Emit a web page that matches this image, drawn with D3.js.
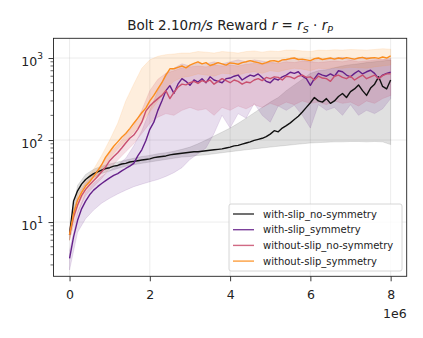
<!DOCTYPE html>
<html>
<head>
<meta charset="utf-8">
<script src="https://cdn.jsdelivr.net/npm/d3@7"></script>
<style>
  body { margin: 0; background: #fff; }
  svg { font-family: "DejaVu Sans", sans-serif; }
</style>
</head>
<body>
<svg id="chart" width="423" height="338"></svg>
<script>
// Data (timesteps in millions)
const lineSteps = d3.range(0, 81).map(i => i / 10);
const bandSteps = d3.range(0, 41).map(i => i / 5);

const seriesNames = ["with-slip_no-symmetry", "with-slip_symmetry", "without-slip_no-symmetry", "without-slip_symmetry"];
const seriesColors = ["#111111", "#65208a", "#c9506f", "#fb8d1e"];

const slipNoSym = [7, 18, 24, 29, 33, 36, 39, 41, 43, 45, 46, 48, 49, 51, 52, 54, 55, 56, 57, 58,
  59, 61, 62, 63, 64, 66, 67, 68, 69, 70, 71, 72, 72, 73, 74, 75, 76, 77, 78, 80,
  82, 85, 86, 89, 92, 95, 99, 102, 105, 110, 118, 130, 126, 140, 150, 162, 178, 195, 220, 250,
  285, 330, 300, 290, 320, 280, 300, 340, 370, 330, 390, 420, 470, 400, 350, 430, 480, 590, 450, 420, 540];
const slipSym = [3.6, 6.6, 10.5, 14.5, 18, 21.5, 24.5, 27, 29.5, 32, 34.5, 37, 39, 42, 45, 48, 52, 64, 76, 98,
  135, 165, 230, 300, 400, 460, 370, 480, 560, 520, 465, 540, 510, 560, 500, 590, 540, 520, 500, 560,
  570, 600, 620, 540, 580, 620, 600, 640, 580, 520, 500, 560, 540, 590, 620, 670, 650, 680, 600, 560,
  465, 560, 650, 620, 600, 640, 600, 700, 680, 620, 590, 650, 700, 640, 680, 710, 650, 560, 620, 650, 670];
const noSlipNoSym = [7, 11.5, 16, 21, 25, 28.5, 32, 36, 41, 47, 56, 63, 70, 80, 92, 105, 115, 135, 165, 225,
  260, 290, 320, 350, 400, 320, 380, 440, 480, 470, 500, 520, 490, 530, 510, 540, 480, 520, 560, 530,
  500, 540, 520, 480, 510, 500, 540, 560, 530, 580, 560, 590, 580, 540, 600, 590, 560, 600, 620, 580,
  590, 540, 600, 570, 560, 520, 600, 620, 580, 560, 600, 540, 580, 620, 560, 590, 620, 560, 610, 640, 640];
const noSlipSym = [7, 12.7, 18.5, 23, 27.5, 31, 36, 42, 50, 62, 72, 84, 95, 108, 120, 138, 160, 185, 215, 245,
  300, 350, 420, 500, 620, 740, 740, 770, 800, 760, 820, 860, 900, 850, 880, 810, 840, 880, 850, 820,
  870, 860, 840, 880, 900, 930, 900, 880, 850, 880, 920, 930, 900, 950, 960, 985, 1000, 960, 970, 950,
  930, 980, 1000, 960, 980, 1000, 970, 1000, 980, 1010, 990, 970, 1000, 1020, 980, 1000, 1010, 990, 1030, 1000, 1060];

// Shaded bands (lower / upper) at 0.2e6 steps
const slipNoSymLow = [6, 21, 29, 35, 39, 42, 45, 48, 50, 52, 54, 56, 58, 60, 62, 63, 65, 66, 68, 70,
  72, 74, 76, 78, 80, 82, 84, 86, 88, 90, 92, 93, 94, 95, 95, 96, 96, 95, 96, 95, 88];
const slipNoSymHigh = [8, 28, 38, 44, 48, 51, 54, 57, 60, 63, 65, 68, 70, 73, 77, 82, 90, 100, 112, 125,
  140, 160, 185, 215, 250, 290, 330, 400, 470, 550, 650, 700, 720, 760, 800, 830, 850, 880, 900, 920, 950];
const slipSymLow = [2.6, 7.5, 11, 14, 17, 19.5, 22, 24.5, 27, 29, 31, 33, 36, 40, 46, 58, 68, 80, 120, 200,
  140, 210, 185, 280, 200, 165, 260, 230, 265, 200, 140, 270, 230, 250, 200, 270, 200, 230, 210, 240, 320];
const slipSymHigh = [4.5, 13, 23, 30, 36, 42, 50, 60, 85, 130, 230, 400, 650, 750, 850, 800, 870, 850, 900, 850,
  900, 950, 900, 950, 920, 880, 920, 950, 1000, 950, 900, 980, 950, 1000, 1020, 950, 1000, 1020, 980, 950, 1000];
const noSlipNoSymLow = [6, 13, 21, 27, 34, 45, 57, 72, 90, 120, 160, 190, 210, 200, 230, 250, 230, 240, 200, 250,
  230, 260, 240, 270, 250, 280, 260, 290, 270, 300, 280, 290, 270, 300, 280, 290, 260, 300, 280, 320, 350];
const noSlipNoSymHigh = [8.5, 20, 30, 38, 50, 70, 88, 115, 150, 230, 400, 550, 650, 700, 760, 780, 800, 780, 820, 800,
  820, 800, 840, 860, 840, 880, 860, 900, 880, 920, 900, 880, 900, 920, 900, 940, 900, 920, 940, 960, 950];
const noSlipSymLow = [6, 16, 24, 31, 42, 60, 78, 98, 125, 165, 220, 300, 420, 520, 580, 600, 640, 620, 600, 650,
  640, 620, 660, 680, 650, 700, 680, 720, 750, 730, 700, 750, 740, 760, 750, 770, 760, 750, 780, 800, 820];
const noSlipSymHigh = [8.5, 22, 32, 44, 65, 100, 160, 300, 480, 750, 950, 1050, 1100, 1120, 1150, 1150, 1200, 1180, 1150, 1200,
  1180, 1150, 1200, 1220, 1180, 1220, 1200, 1250, 1250, 1220, 1200, 1250, 1240, 1260, 1250, 1270, 1260, 1250, 1270, 1300, 1280];

const xTicks = [0, 2, 4, 6, 8];
const yTicks = [10, 100, 1000];

// Layout
const margin = { top: 38.3, left: 53.5 };
const width = 353.2;
const height = 238;

const svg = d3.select("#chart");
const g = svg.append("g").attr("transform", `translate(${margin.left},${margin.top})`);

const x = d3.scaleLinear().domain([-0.4, 8.4]).range([0, width]);
const y = d3.scaleLog().domain([2.18, 1740]).range([height, 0]);

// Gridlines
g.append("g").selectAll("line").data(xTicks).join("line")
  .attr("x1", d => x(d)).attr("x2", d => x(d))
  .attr("y1", 0).attr("y2", height)
  .attr("stroke", "#b0b0b0").attr("stroke-opacity", 0.3).attr("stroke-width", 0.8);
g.append("g").selectAll("line").data(yTicks).join("line")
  .attr("x1", 0).attr("x2", width)
  .attr("y1", d => y(d)).attr("y2", d => y(d))
  .attr("stroke", "#b0b0b0").attr("stroke-opacity", 0.3).attr("stroke-width", 0.8);

g.append("clipPath").attr("id", "clip")
  .append("rect").attr("width", width).attr("height", height);

const plot = g.append("g").attr("clip-path", "url(#clip)");

// Bands
const bands = [
  [slipNoSymLow, slipNoSymHigh],
  [slipSymLow, slipSymHigh],
  [noSlipNoSymLow, noSlipNoSymHigh],
  [noSlipSymLow, noSlipSymHigh]
];
const bandOpacity = [0.13, 0.15, 0.18, 0.15];

const area = d3.area()
  .x(d => x(d.t))
  .y0(d => y(d.lo))
  .y1(d => y(d.hi));

bands.forEach(([lo, hi], i) => {
  const data = bandSteps.map((t, k) => ({ t, lo: lo[k], hi: hi[k] }));
  plot.append("path")
    .datum(data)
    .attr("d", area)
    .attr("fill", seriesColors[i])
    .attr("fill-opacity", bandOpacity[i])
    .attr("stroke", seriesColors[i])
    .attr("stroke-opacity", bandOpacity[i])
    .attr("stroke-width", 0.8);
});

// Lines
const lines = [slipNoSym, slipSym, noSlipNoSym, noSlipSym];
const line = d3.line()
  .x(d => x(d.t))
  .y(d => y(d.v));

lines.forEach((vals, i) => {
  plot.append("path")
    .datum(lineSteps.map((t, k) => ({ t, v: vals[k] })))
    .attr("d", line)
    .attr("fill", "none")
    .attr("stroke", seriesColors[i])
    .attr("stroke-width", 1.4)
    .attr("stroke-linejoin", "round");
});

// Axes
const xAxis = g.append("g")
  .attr("transform", `translate(0,${height})`)
  .call(d3.axisBottom(x).tickValues(xTicks).tickSize(5).tickPadding(8.5).tickFormat(d3.format("d")));
xAxis.select(".domain").remove();
xAxis.selectAll("text").attr("font-size", 12.5).attr("fill", "#222").attr("font-family", "DejaVu Sans");
xAxis.selectAll("line").attr("stroke", "#222").attr("stroke-width", 0.9);

const minorY = [];
[1, 10, 100, 1000].forEach(base => {
  for (let m = 2; m <= 9; m++) {
    const v = base * m;
    if (v > 2.18 && v < 1740) minorY.push(v);
  }
});
g.append("g").selectAll("line").data(minorY).join("line")
  .attr("x1", -3).attr("x2", 0)
  .attr("y1", d => y(d)).attr("y2", d => y(d))
  .attr("stroke", "#222").attr("stroke-width", 0.7);

const yAxis = g.append("g")
  .call(d3.axisLeft(y).tickValues(yTicks).tickSize(5).tickPadding(3.5).tickFormat(""));
yAxis.select(".domain").remove();
yAxis.selectAll("line").attr("stroke", "#222").attr("stroke-width", 0.9);

const yLabels = g.append("g").selectAll("text").data(yTicks).join("text")
  .attr("x", -10.5)
  .attr("y", d => y(d) + 7.5)
  .attr("text-anchor", "end")
  .attr("font-size", 12.5)
  .attr("fill", "#222");
yLabels.append("tspan").text("10");
yLabels.append("tspan")
  .attr("dy", -6.5)
  .attr("font-size", 9)
  .text(d => Math.round(Math.log10(d)));

// Frame
g.append("rect")
  .attr("width", width).attr("height", height)
  .attr("fill", "none").attr("stroke", "#222").attr("stroke-width", 0.9);

// Offset label
g.append("text")
  .attr("x", width).attr("y", height + 42)
  .attr("text-anchor", "end")
  .attr("font-size", 12.5)
  .attr("fill", "#222")
  .text("1e6");

// Title
const title = svg.append("text")
  .attr("x", margin.left + width / 2)
  .attr("y", 29.5)
  .attr("text-anchor", "middle")
  .attr("font-size", 13.5)
  .attr("fill", "#222");
title.append("tspan").text("Bolt 2.10");
title.append("tspan").attr("font-style", "italic").text("m/s");
title.append("tspan").text(" Reward ");
title.append("tspan").attr("font-style", "italic").text("r");
title.append("tspan").text(" = ");
title.append("tspan").attr("font-style", "italic").text("r");
title.append("tspan").attr("font-style", "italic").attr("font-size", 9.5).attr("dy", 3).text("S");
title.append("tspan").attr("dy", -3).text(" · ");
title.append("tspan").attr("font-style", "italic").text("r");
title.append("tspan").attr("font-style", "italic").attr("font-size", 9.5).attr("dy", 3).text("P");

// Legend
const legend = g.append("g").attr("transform", `translate(${229 - margin.left},${204 - margin.top})`);
legend.append("rect")
  .attr("width", 173).attr("height", 67).attr("rx", 2)
  .attr("fill", "#fff").attr("fill-opacity", 0.8)
  .attr("stroke", "#ccc").attr("stroke-width", 0.8);

const rows = legend.selectAll("g.row").data(seriesNames).join("g")
  .attr("class", "row")
  .attr("transform", (d, i) => `translate(0,${10 + i * 15.7})`);
rows.append("line")
  .attr("x1", 4).attr("x2", 25)
  .attr("stroke", (d, i) => seriesColors[i])
  .attr("stroke-opacity", 0.85)
  .attr("stroke-width", 1.4);
rows.append("text")
  .attr("x", 34).attr("y", 3.6)
  .attr("font-size", 10)
  .attr("fill", "#222")
  .text(d => d);
</script>
</body>
</html>
